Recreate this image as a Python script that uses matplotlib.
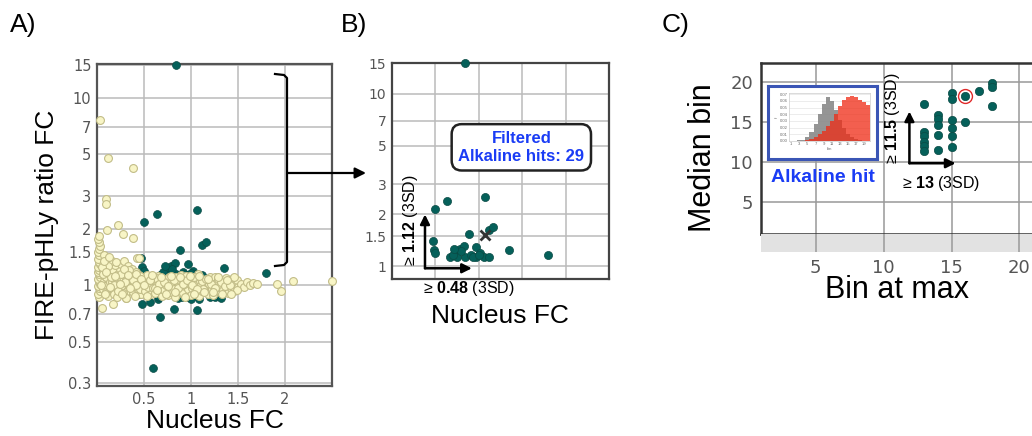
import matplotlib.pyplot as plt
import matplotlib.ticker as mticker
from matplotlib.lines import Line2D
from matplotlib.patches import FancyArrowPatch

plt.rcParams['font.family'] = ['Liberation Sans', 'DejaVu Sans']
plt.rcParams['mathtext.fontset'] = 'custom'
plt.rcParams['mathtext.rm'] = 'Liberation Sans'
plt.rcParams['mathtext.bf'] = 'Liberation Sans:bold'

# ---- data ----
# panel A/B: filtered alkaline hits (teal)
hit_x = [0.845, 0.50, 0.634, 1.067, 0.883, 1.12, 1.16, 0.469, 0.48, 0.50, 0.672, 0.73, 0.75, 0.787, 0.825,
         0.845, 0.91, 0.967, 0.967, 1.017, 1.055, 1.12, 1.35, 1.795, 0.70, 0.80, 0.93, 1.00, 0.72]
hit_y = [15.0, 2.16, 2.39, 2.53, 1.54, 1.63, 1.69, 1.40, 1.25, 1.19, 1.13, 1.21, 1.13, 1.26, 1.31,
         1.14, 1.17, 1.30, 1.13, 1.19, 1.14, 1.13, 1.24, 1.16, 1.17, 1.22, 1.14, 1.16, 1.26]

# panel A: other teal points (not passing filter)
other_x = [0.475, 0.564, 0.67, 0.82, 1.06, 0.60, 0.457, 0.65, 0.86, 0.97, 1.05, 1.09, 1.15, 1.25, 1.32,
           0.90, 0.66, 1.00, 1.20, 0.78]
other_y = [0.79, 0.81, 0.68, 0.745, 0.736, 0.36, 0.896, 0.84, 0.85, 0.86, 0.93, 0.84, 0.93, 0.86, 0.85,
           0.86, 0.86, 0.84, 0.87, 0.92]

# panel A: all other proteins (cream)
yel_x = [0.02, 0.01, 0.03, 0.02, 0.01, 0.03, 0.02, 0.01, 0.03, 0.02, 0.01, 0.02, 0.01, 0.03, 0.02, 0.01,
         0.02, 0.01, 0.02, 0.03, 0.02, 0.01, 0.02, 0.05,
         0.06, 0.07, 0.08, 0.06, 0.09, 0.10, 0.11, 0.12, 0.13, 0.14, 0.08, 0.15, 0.10, 0.12, 0.07, 0.14, 0.09, 0.11,
         0.16, 0.17, 0.18, 0.20, 0.21, 0.22, 0.24, 0.25, 0.19, 0.23, 0.17, 0.21, 0.24, 0.16,
         0.26, 0.27, 0.28, 0.30, 0.31, 0.32, 0.29, 0.33, 0.26, 0.34, 0.28, 0.31,
         0.35, 0.36, 0.38, 0.40, 0.41, 0.43, 0.44, 0.45, 0.47, 0.48, 0.49, 0.43, 0.45, 0.37, 0.39, 0.46, 0.42, 0.50,
         0.51, 0.52, 0.54, 0.55, 0.57, 0.58, 0.60, 0.59, 0.53,
         0.61, 0.62, 0.64, 0.65, 0.67, 0.68, 0.70, 0.69, 0.63,
         0.71, 0.72, 0.74, 0.75, 0.77, 0.78, 0.80, 0.79, 0.73,
         0.81, 0.82, 0.84, 0.85, 0.87, 0.88, 0.90, 0.89, 0.83,
         0.91, 0.92, 0.94, 0.95, 0.97, 0.98, 1.00, 0.99, 0.93,
         1.01, 1.02, 1.04, 1.05, 1.07, 1.08, 1.10, 1.09, 1.03,
         1.11, 1.12, 1.14, 1.15, 1.17, 1.18, 1.20, 1.19, 1.13,
         1.21, 1.22, 1.24, 1.25, 1.27, 1.28, 1.30, 1.29, 1.23,
         1.31, 1.32, 1.34, 1.35, 1.37, 1.38, 1.40, 1.39,
         1.41, 1.43, 1.44, 1.46, 1.47, 1.49, 1.50,
         1.53, 1.56, 1.60, 1.63, 1.66, 1.70, 1.91, 1.96, 2.09, 2.50,
         0.032, 0.114, 0.386, 0.096, 0.096, 0.22, 0.11, 0.28, 0.386, 0.31]
yel_y = [0.86, 0.90, 0.93, 0.96, 0.99, 1.02, 1.05, 1.08, 1.11, 1.14, 1.17, 1.21, 1.25, 1.29, 1.33, 1.38,
         1.44, 1.50, 1.56, 1.62, 1.69, 1.76, 1.82, 0.76,
         0.95, 1.05, 1.12, 1.20, 1.30, 0.92, 1.00, 1.08, 1.16, 1.25, 1.38, 0.96, 1.10, 0.88, 1.45, 1.04, 1.22, 1.33,
         1.04, 1.20, 0.90, 0.98, 1.06, 1.14, 1.22, 0.95, 1.28, 1.02, 0.79, 0.87, 1.10, 1.34,
         1.30, 1.02, 1.10, 1.18, 0.85, 0.93, 1.35, 1.26, 0.99, 1.00, 0.91, 1.06,
         1.08, 1.15, 0.92, 1.02, 1.10, 0.96, 1.05, 1.13, 0.90, 1.00, 1.07, 1.39, 1.39, 1.22, 0.99, 0.95, 1.18, 1.02,
         0.93, 1.04, 0.98, 1.10, 0.90, 1.02, 0.96, 1.08, 1.13,
         1.06, 0.91, 1.00, 1.12, 0.95, 1.05, 0.99, 0.88, 1.09,
         0.94, 1.08, 1.01, 0.89, 1.11, 0.97, 1.04, 0.92, 1.00,
         1.02, 0.95, 1.10, 0.90, 1.00, 1.07, 0.94, 1.13, 0.87,
         1.05, 0.91, 0.99, 1.12, 0.95, 1.03, 0.89, 1.09, 1.01,
         0.97, 1.08, 0.92, 1.02, 1.14, 0.96, 1.05, 0.88, 1.11,
         1.00, 0.93, 1.07, 0.97, 1.03, 0.90, 1.10, 1.01, 0.95,
         1.06, 0.95, 1.00, 1.11, 0.92, 1.04, 0.98, 1.08, 0.89,
         0.99, 1.07, 0.94, 1.03, 1.09, 0.96, 1.01, 0.91,
         1.05, 0.97, 1.08, 0.93, 1.02, 1.06, 0.98,
         1.02, 0.98, 1.04, 1.00, 1.03, 1.02, 1.01, 0.93, 1.05, 1.05,
         7.64, 4.78, 4.23, 2.87, 2.72, 2.09, 1.97, 1.88, 1.78, 0.85]

# more cream points filling the dense band
band_x = [0.04, 0.06, 0.09, 0.12, 0.15, 0.18, 0.22, 0.26, 0.30, 0.34, 0.38, 0.42, 0.46,
          0.05, 0.10, 0.14, 0.19, 0.24, 0.29, 0.35, 0.41, 0.47,
          0.07, 0.13, 0.20, 0.27, 0.33, 0.40,
          0.505, 0.56, 0.615, 0.66, 0.715, 0.76, 0.815, 0.86, 0.915, 0.96, 1.015, 1.06, 1.115, 1.16, 1.215,
          1.26, 1.315, 1.36, 1.415, 1.455, 1.485,
          0.535, 0.585, 0.635, 0.685, 0.735, 0.785, 0.835, 0.885, 0.935, 0.985, 1.035, 1.085, 1.135, 1.185,
          1.235, 1.285, 1.335, 1.385, 1.425]
band_y = [1.00, 1.14, 0.90, 1.27, 1.10, 1.00, 0.93, 1.15, 1.04, 1.20, 1.07, 1.00, 1.12,
          1.25, 1.18, 0.98, 1.12, 1.01, 1.22, 0.96, 1.15, 1.08,
          1.35, 1.41, 1.33, 0.90, 1.13, 0.88,
          1.00, 1.06, 0.97, 1.02, 1.04, 0.99, 1.06, 0.97, 1.02, 1.07, 1.00, 0.95, 1.05, 1.08, 1.02,
          0.97, 1.04, 0.99, 1.00, 1.10, 0.94,
          0.88, 1.13, 0.94, 1.10, 0.90, 1.12, 0.92, 1.10, 0.87, 1.12, 0.90, 1.12, 0.92, 1.08,
          0.92, 1.10, 0.90, 1.06, 0.90]

fc_ticks = [0.3, 0.5, 0.7, 1, 1.5, 2, 3, 5, 7, 10, 15]
fc_labels = ['0.3', '0.5', '0.7', '1', '1.5', '2', '3', '5', '7', '10', '15']
nuc_ticks = [0.5, 1, 1.5, 2]
nuc_labels = ['0.5', '1', '1.5', '2']

# panel C
bin_max = [13, 13, 13, 13, 13, 13, 14, 14, 14, 14, 14, 15, 15, 15, 15, 15, 15, 16, 16, 17, 18, 18, 18]
median_bin = [17.2, 13.7, 13.2, 12.5, 12.0, 11.4, 15.9, 15.3, 14.6, 13.4, 11.5, 18.6, 17.8, 15.2, 14.3, 13.2,
              11.9, 18.2, 15.0, 18.9, 19.8, 19.3, 17.0]
pick_x, pick_y = 16, 18.2
c_ticks = [5, 10, 15, 20]

# inset histogram (fraction per bin)
hist_bins = list(range(1, 21))
ctrl_freq = [0, 0, 0.001, 0.002, 0.006, 0.014, 0.026, 0.040, 0.055, 0.066, 0.060, 0.046, 0.032, 0.020,
             0.011, 0.006, 0.003, 0.001, 0.0005, 0]
alk_freq = [0, 0, 0, 0, 0.001, 0.003, 0.006, 0.010, 0.015, 0.022, 0.030, 0.040, 0.052, 0.062,
            0.066, 0.067, 0.066, 0.062, 0.058, 0.054]

TEAL = '#05605a'
CREAM = '#f8f5c6'
BLUE = '#1a3cf5'
W, H = 1032, 436


def box(l, t, r, b):
    return [l / W, 1 - b / H, (r - l) / W, (b - t) / H]


def fp(x, y):
    return (x / W, 1 - y / H)


fig = plt.figure(figsize=(10.32, 4.36), dpi=100)

# ---------- A ----------
axA = fig.add_axes(box(97, 64, 332, 386))
axA.set_yscale('log')
axA.set_xlim(0, 2.5)
axA.set_ylim(0.29, 15.1)
axA.set_yticks(fc_ticks)
axA.set_yticklabels(fc_labels, fontfamily='DejaVu Sans')
axA.yaxis.set_minor_locator(mticker.NullLocator())
axA.set_xticks(nuc_ticks)
axA.set_xticklabels(nuc_labels, fontfamily='DejaVu Sans')
axA.tick_params(length=0, pad=4, labelsize=10.5, labelcolor='#555555')
axA.grid(color='#bbbbbb', lw=1.1)
axA.set_axisbelow(True)
for s in axA.spines.values():
    s.set_color('#555555')
    s.set_linewidth(1.6)
axA.scatter(other_x, other_y, s=32, c=TEAL, edgecolors='#0a4a44', linewidths=0.5, zorder=3, clip_on=False)
axA.scatter(hit_x, hit_y, s=32, c=TEAL, edgecolors='#0a4a44', linewidths=0.5, zorder=3, clip_on=False)
axA.scatter(yel_x + band_x, yel_y + band_y, s=32, c=CREAM, edgecolors='#c2bd88', linewidths=0.8,
            zorder=4, clip_on=False)

# bracket + arrow A -> B
bx = [275, 284, 287, 287, 284, 275]
by = [74, 75, 78, 262, 265, 266]
pts = [fp(x, y) for x, y in zip(bx, by)]
fig.add_artist(Line2D([p[0] for p in pts], [p[1] for p in pts], transform=fig.transFigure,
                      color='black', lw=1.6))
fig.add_artist(FancyArrowPatch(fp(287, 173), fp(366, 173), transform=fig.transFigure,
                               arrowstyle='-|>', mutation_scale=16, lw=1.6, color='black',
                               shrinkA=0, shrinkB=0))

# ---------- B ----------
axB = fig.add_axes(box(392, 63, 609, 279))
axB.set_yscale('log')
axB.set_xlim(0, 2.5)
axB.set_ylim(0.845, 15.1)
axB.set_yticks(fc_ticks[3:])
axB.set_yticklabels(fc_labels[3:], fontfamily='DejaVu Sans')
axB.yaxis.set_minor_locator(mticker.NullLocator())
axB.set_xticks(nuc_ticks)
axB.set_xticklabels([])
axB.tick_params(length=0, pad=4, labelsize=10, labelcolor='#555555')
axB.grid(color='#bbbbbb', lw=1.1)
axB.set_axisbelow(True)
for s in axB.spines.values():
    s.set_color('#444444')
    s.set_linewidth(1.6)
axB.scatter(hit_x, hit_y, s=34, c=TEAL, edgecolors='#0a4a44', linewidths=0.5, zorder=3, clip_on=False)
axB.plot(1.07, 1.53, marker='x', ms=7, mew=2, color='#333333', zorder=4)
axB.text(1.49, 4.9, 'Filtered\nAlkaline hits: 29', ha='center', va='center', color=BLUE,
         fontsize=12, fontweight='bold', linespacing=1.25,
         bbox=dict(boxstyle='round,pad=0.4,rounding_size=0.6', fc='white', ec='#222222', lw=1.8))
arr = dict(arrowstyle='-|>', color='black', lw=1.8, mutation_scale=14, shrinkA=0, shrinkB=0)
axB.annotate('', xy=(0.38, 2.0), xytext=(0.38, 0.975), arrowprops=arr, annotation_clip=False)
axB.annotate('', xy=(0.92, 0.975), xytext=(0.38, 0.975), arrowprops=arr, annotation_clip=False)
fig.text(*fp(469, 288), r'≥ $\mathbf{0.48}$ (3SD)', ha='center', va='center', fontsize=11.5)
fig.text(*fp(410, 220), r'≥ $\mathbf{1.12}$ (3SD)', ha='center', va='center', fontsize=11.5, rotation=90)

# ---------- C ----------
axC = fig.add_axes(box(761.4, 63.3, 1045.2, 234.3))
band = fig.add_axes(box(761.4, 234.3, 1045.2, 251.7), sharex=axC)
axC.set_xlim(1, 21.9)
axC.set_ylim(1, 22.3)
axC.set_xticks(c_ticks)
axC.set_yticks(c_ticks)
axC.set_yticklabels([str(t) for t in c_ticks], fontfamily='DejaVu Sans')
axC.tick_params(length=0, pad=6, labelbottom=False, labelsize=13, labelcolor='#555555')
axC.grid(color='#999999', lw=1.1)
axC.set_axisbelow(True)
for s in axC.spines.values():
    s.set_color('#333333')
    s.set_linewidth(1.8)
axC.scatter(bin_max, median_bin, s=36, c=TEAL, edgecolors='#0a4a44', linewidths=0.5, zorder=3)
axC.plot(pick_x, pick_y, 'o', mfc='none', mec='#e02a2a', ms=10, mew=1.0, zorder=4)

band.set_facecolor('#e2e2e2')
band.set_yticks([])
band.set_xticklabels([str(t) for t in c_ticks], fontfamily='DejaVu Sans')
for s in band.spines.values():
    s.set_visible(False)
band.grid(axis='x', color='#999999', lw=1.1)
band.tick_params(axis='x', length=0, pad=5, labelsize=13, labelcolor='#555555')

axC.annotate('', xy=(11.9, 16.3), xytext=(11.9, 9.85), arrowprops=arr, annotation_clip=False)
axC.annotate('', xy=(15.3, 9.85), xytext=(11.9, 9.85), arrowprops=arr, annotation_clip=False)
fig.text(*fp(941, 183), r'≥ $\mathbf{13}$ (3SD)', ha='center', va='center', fontsize=11.5)
fig.text(*fp(892, 118), r'≥ $\mathbf{11.5}$ (3SD)', ha='center', va='center', fontsize=11.5, rotation=90)

# inset histogram of an alkaline hit
frame = fig.add_axes(box(768.3, 86, 877.3, 159.3))
frame.set_xticks([])
frame.set_yticks([])
frame.set_facecolor('white')
frame.set_zorder(5)
for s in frame.spines.values():
    s.set_color('#3a55b5')
    s.set_linewidth(2.2)
axH = fig.add_axes(box(789.3, 93, 870, 141))
axH.set_zorder(6)
axH.bar(hist_bins, ctrl_freq, width=1, color='#8a8a8a', alpha=0.9)
axH.bar(hist_bins, alk_freq, width=1, color='#f02a14', alpha=0.75)
axH.set_xlim(0.5, 20.5)
axH.set_ylim(0, 0.072)
axH.set_xticks(list(range(1, 20, 2)))
axH.set_yticks([0, 0.01, 0.02, 0.03, 0.04, 0.05, 0.06, 0.07])
axH.set_yticklabels(['0.00', '0.01', '0.02', '0.03', '0.04', '0.05', '0.06', '0.07'])
axH.tick_params(length=0, pad=1, labelsize=3, labelcolor='#666666')
axH.set_xlabel('bin', fontsize=3, labelpad=0.5, color='#666666')
axH.set_ylabel('f', fontsize=3, labelpad=1, color='#666666')
axH.grid(axis='y', color='#dddddd', lw=0.4)
axH.set_axisbelow(True)
for s in axH.spines.values():
    s.set_color('#cccccc')
    s.set_linewidth(0.5)
fig.text(*fp(823, 178), 'Alkaline hit', ha='center', va='center', fontsize=14, fontweight='bold', color=BLUE)

# ---------- labels ----------
fig.text(*fp(10, 25), 'A)', ha='left', va='center', fontsize=19)
fig.text(*fp(341, 25), 'B)', ha='left', va='center', fontsize=19)
fig.text(*fp(662, 25), 'C)', ha='left', va='center', fontsize=19)
fig.text(*fp(47, 225), 'FIRE-pHLy ratio FC', ha='center', va='center', fontsize=19, rotation=90)
fig.text(*fp(215, 421), 'Nucleus FC', ha='center', va='center', fontsize=19)
fig.text(*fp(500, 316), 'Nucleus FC', ha='center', va='center', fontsize=19)
fig.text(*fp(703, 158), 'Median bin', ha='center', va='center', fontsize=22, rotation=90)
fig.text(*fp(897, 290), 'Bin at max', ha='center', va='center', fontsize=22)

fig.savefig('out.png', dpi=100)
